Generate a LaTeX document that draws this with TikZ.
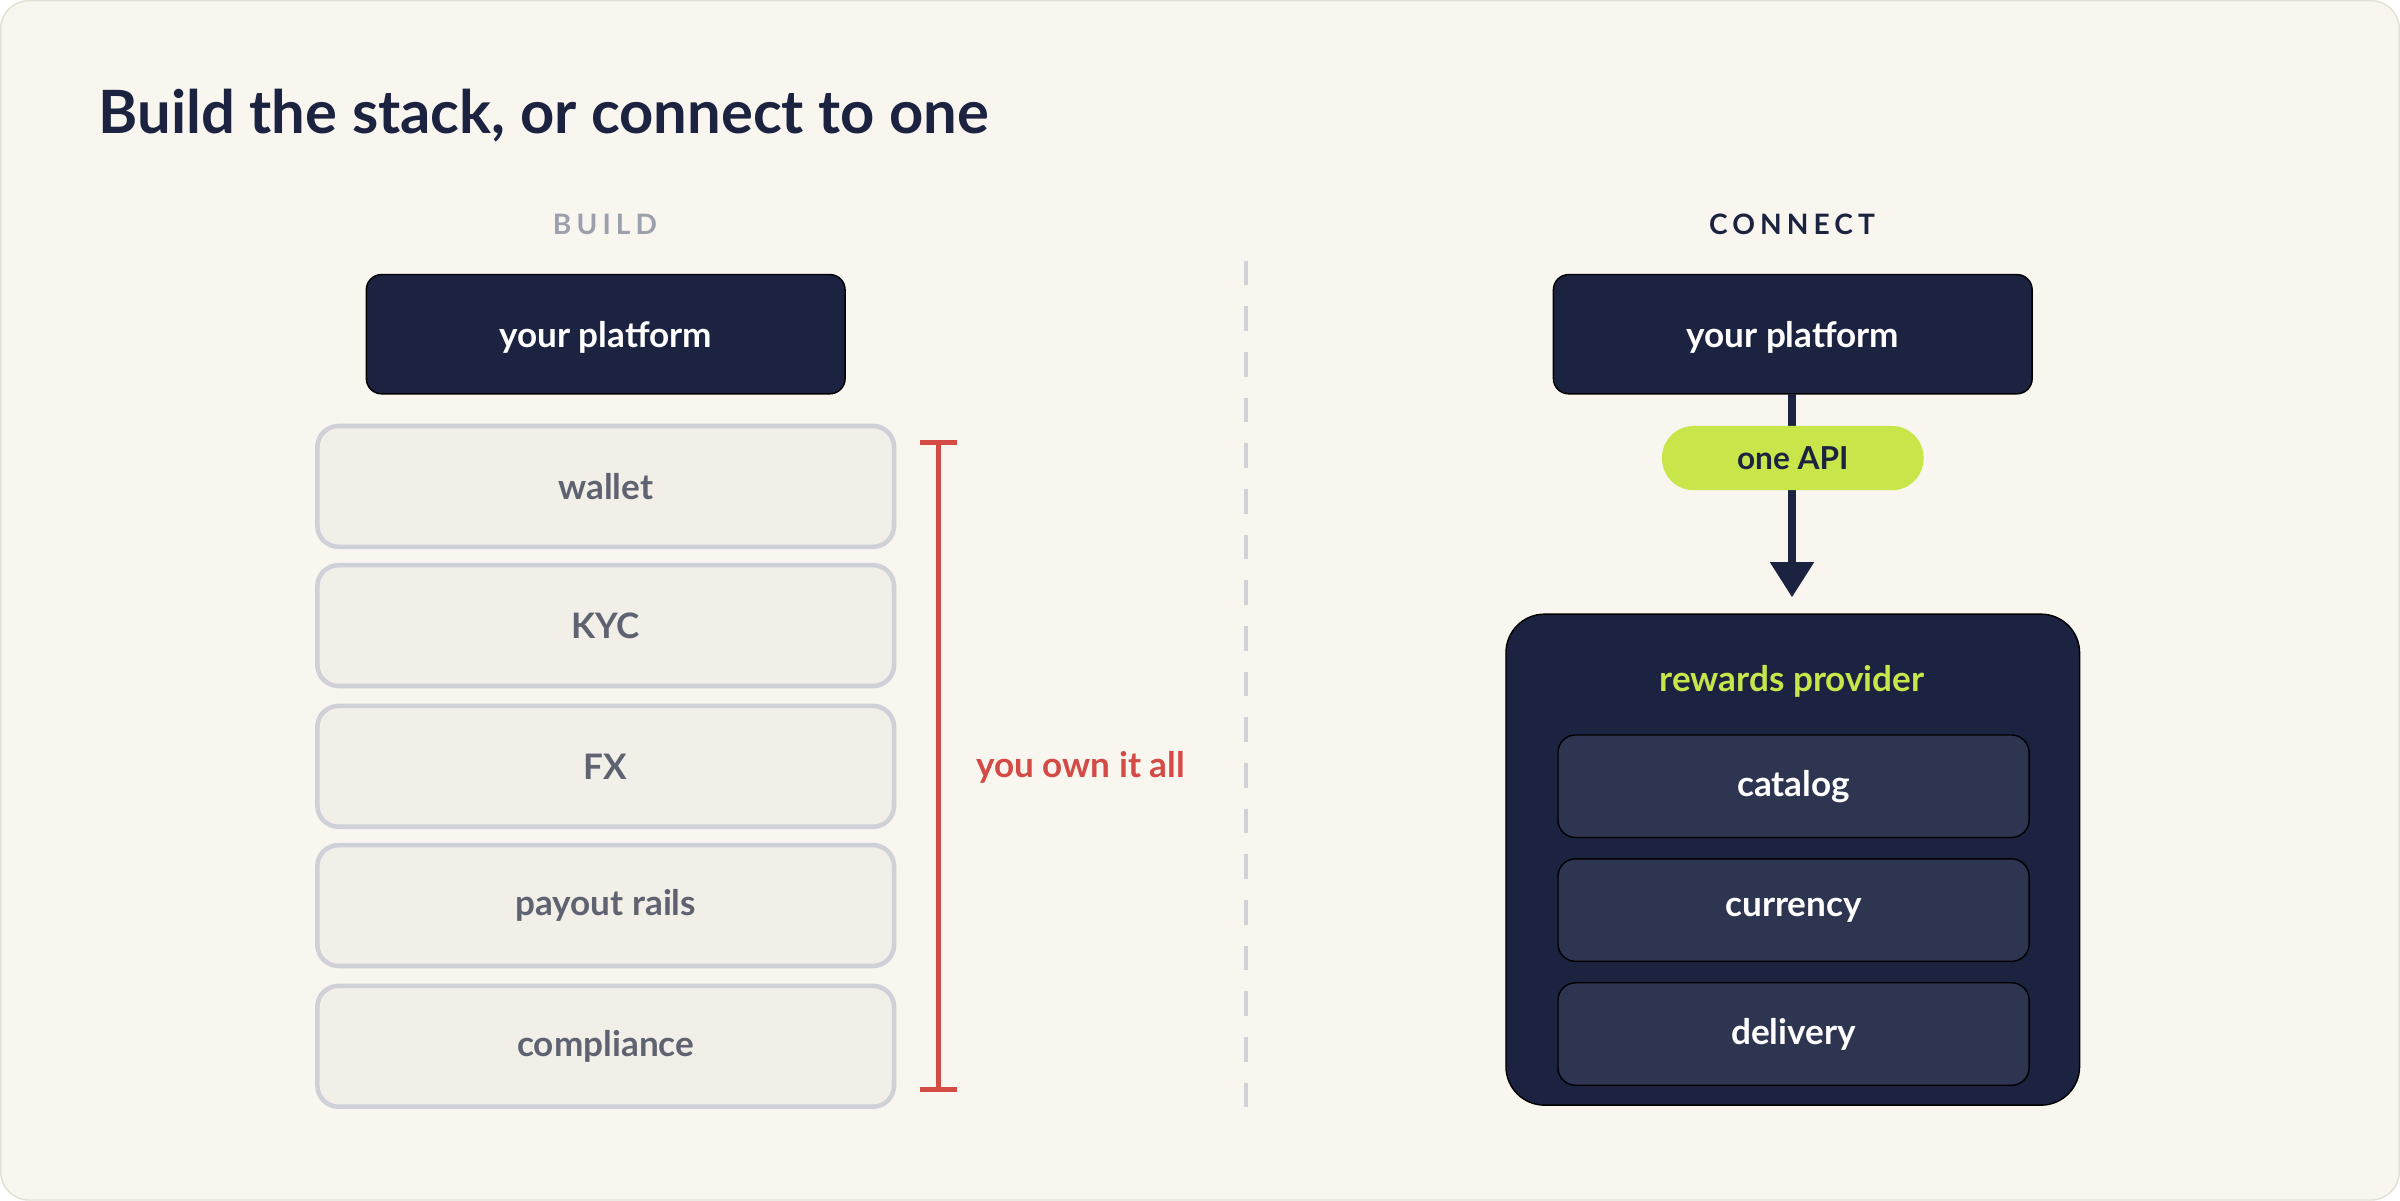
\documentclass[tikz,border=0pt]{standalone}
\usepackage{fontspec}
\setmainfont{Lato}
\usetikzlibrary{arrows.meta,positioning}
\definecolor{navy}{HTML}{1B2340}
\definecolor{paper}{HTML}{F9F6F0}
\definecolor{frame}{HTML}{E4DFD5}
\definecolor{layer}{HTML}{F2EFE8}
\definecolor{layerline}{HTML}{D0D1D8}
\definecolor{layertext}{HTML}{5F6270}
\definecolor{muted}{HTML}{9CA0AD}
\definecolor{ownred}{HTML}{D44A45}
\definecolor{lime}{HTML}{C8E64A}
\definecolor{inner}{HTML}{2E3550}
\tikzset{
  platform/.style={fill=navy, rounded corners=10pt*0.4356, text=white, font=\fontsize{10}{12}\selectfont\bfseries},
  layerbox/.style={draw=layerline, line width=1.3pt, fill=layer, rounded corners=6pt, text=layertext, font=\fontsize{10}{12}\selectfont\bfseries},
  innerbox/.style={fill=inner, rounded corners=5pt, text=white, font=\fontsize{10}{12}\selectfont\bfseries},
  heading/.style={font=\fontsize{8}{10}\selectfont\bfseries\addfontfeature{LetterSpace=18}},
}
\begin{document}
\begin{tikzpicture}[x=0.015306cm, y=-0.015306cm]

    \draw[frame, fill=paper, rounded corners=8pt] (0,0) rectangle (1568,784);
    \node[anchor=west, navy, font=\fontsize{17}{20}\selectfont\bfseries] (title) at (56,75) {Build the stack, or connect to one};

    % build side
    \node[heading, muted] (build) at (395,146) {BUILD};
    \draw[platform] (239,179) rectangle (552,257);
    \node[platform, fill=none] (platL) at (395.5,220) {your platform};
    \foreach \name/\txt/\y in {wallet/wallet/278, kyc/KYC/369, fx/FX/461, rails/payout rails/552, comp/compliance/644}
        \draw[layerbox] (207,\y) rectangle (584,\y+79) node[midway] (\name) {\txt};

    \draw[ownred, line width=1.4pt] (601,289) -- (625,289) (613,289) -- (613,712) (601,712) -- (625,712);
    \node[ownred, font=\fontsize{10}{12}\selectfont\bfseries] (own) at (706,501) {you own it all};

    \draw[layerline, line width=1.2pt, dash pattern=on 7pt off 6pt] (814,170) -- (814,727);

    % connect side
    \node[heading, navy] (connect) at (1171,146) {CONNECT};
    \draw[platform] (1015,179) rectangle (1328,257);
    \node[platform, fill=none] (platR) at (1171.5,220) {your platform};
    \draw[fill=navy, rounded corners=11pt] (984,401) rectangle (1359,722);
    \coordinate (top) at (1171,257);
    \coordinate (prov) at (1171,390);
    \draw[navy, line width=2.2pt, -{Triangle[width=12pt, length=10pt]}] (top) -- (prov);
    \node[fill=lime, rounded corners=9pt, minimum width=171*0.015306cm, minimum height=42*0.015306cm, text=navy, font=\fontsize{9}{11}\selectfont\bfseries] (api) at (1171.5,299) {one API};
    \node[lime, font=\fontsize{10}{12}\selectfont\bfseries] (rewards) at (1171,445) {rewards provider};
    \foreach \name/\y in {catalog/480, currency/561, delivery/642}
        \draw[innerbox] (1018,\y) rectangle (1326,\y+67) node[midway] (\name) {\name};

\end{tikzpicture}
\end{document}
